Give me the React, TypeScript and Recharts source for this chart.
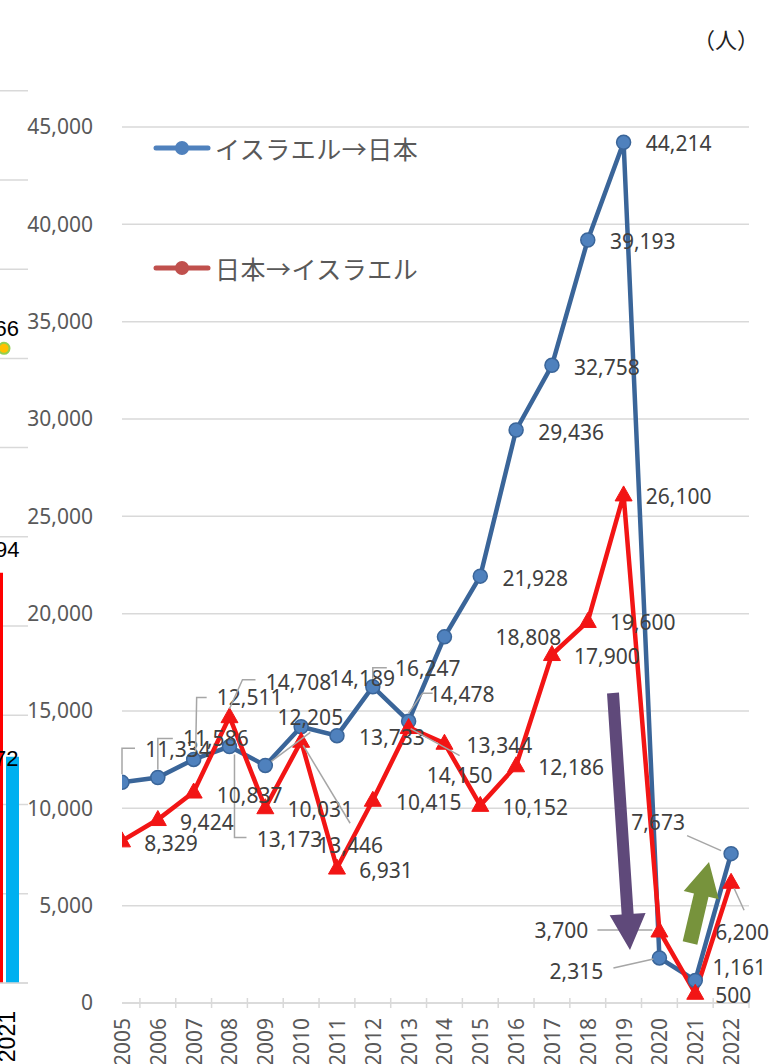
import React from 'react';
import {
  ComposedChart,
  Line,
  Bar,
  XAxis,
  YAxis,
  CartesianGrid,
  LabelList,
  Legend,
} from 'recharts';

// ---------- data ----------
const years = ['2005', '2006', '2007', '2008', '2009', '2010', '2011', '2012', '2013', '2014', '2015', '2016', '2017', '2018', '2019', '2020', '2021', '2022'];
const israelToJapan = [11334, 11586, 12511, 13173, 12205, 14189, 13733, 16247, 14478, 18808, 21928, 29436, 32758, 39193, 44214, 2315, 1161, 7673];
const japanToIsrael = [8329, 9424, 10837, 14708, 10031, 13446, 6931, 10415, 14150, 13344, 10152, 12186, 17900, 19600, 26100, 3700, 500, 6200];
const yTicks = [0, 5000, 10000, 15000, 20000, 25000, 30000, 35000, 40000, 45000];
const seriesNames = ['イスラエル→日本', '日本→イスラエル'];
const unitLabel = '（人）';

// neighbouring chart, cut off at the left edge of the picture
const sideYears = ['2021'];
const sideRed = [22994];
const sideBlue = [12672];
const sideYellow = [35566];
const sideTicks = [0, 5000, 10000, 15000, 20000, 25000, 30000, 35000, 40000, 45000, 50000];

const data = years.map((y, i) => ({ idx: i, year: y, ij: israelToJapan[i], ji: japanToIsrael[i] }));
const sideData = sideYears.map((y, i) => ({ year: y, red: sideRed[i], blue: sideBlue[i], yellow: sideYellow[i] }));
const xTicks: number[] = [];
years.forEach((_, i) => { xTicks.push(i); xTicks.push(i + 0.5); });

// ---------- layout config (label placement) ----------
const blueOffsets: [number, number][] = [
  [56, -33], [58, -39], [56, -62], [60, 92], [45, -48], [61, -49], [55, 1], [55, -19], [53, -27],
  [84, 0], [55, 2], [55, 2], [55, 2], [55, 1], [55, 1], [-83, 13], [44, -13], [-73, -32],
];
const redOffsets: [number, number][] = [
  [49, 2], [49, 2], [56, 3], [69, -35], [55, 1], [49, 104], [49, 2], [56, 2], [51, 47],
  [55, 2], [55, 2], [55, 1], [55, 1], [55, 1], [55, 1], [-98, -1], [38, 2], [11, 50],
];
const blueLeaders: Record<number, [number, number][]> = {
  0: [[0, -8], [0, -34], [13, -34]],
  1: [[0, -8], [0, -39], [15, -39]],
  2: [[2, -8], [3, -62], [13, -62]],
  3: [[5, 8], [5, 91], [17, 91]],
  4: [[6, -4], [45, -33]],
  7: [[0, -8], [0, -19], [14, -19]],
  8: [[0, -8], [14, -28], [24, -28]],
  15: [[-6, 1], [-46, 10]],
  17: [[-10, -3], [-44, -18]],
};
const redLeaders: Record<number, [number, number][]> = {
  3: [[0, -8], [13, -37], [26, -37]],
  5: [[2, 4], [49, 82]],
  8: [[2, 1], [51, 28]],
  15: [[-7, -1], [-62, -1]],
  17: [[3, 6], [13, 28]],
};

const fmt = (v: number) => Number(v).toLocaleString('en-US');
const NUM_FONT = "'Noto Sans', 'DejaVu Sans', sans-serif";
const CJK_FONT = "'Noto Sans CJK JP', 'Noto Sans', sans-serif";
const BLUE_LINE = '#3A6599';
const BLUE_DOT = '#4F81BD';
const RED_LINE = '#F21515';

const makeLabel = (offsets: [number, number][], leaders: Record<number, [number, number][]>) => (props: any) => {
  const { value, index } = props;
  const x = props.x ?? props.viewBox?.x;
  const y = props.y ?? props.viewBox?.y;
  if (x == null || y == null || index == null) return null;
  const [dx, dy] = offsets[index];
  const leader = leaders[index];
  return (
    <g>
      {leader && (
        <polyline
          points={leader.map(([a, b]) => `${x + a},${y + b}`).join(' ')}
          fill="none"
          stroke="#A6A6A6"
          strokeWidth={1.5}
        />
      )}
      <text
        x={x + dx}
        y={y + dy}
        textAnchor="middle"
        dominantBaseline="central"
        fontSize={21}
        fontFamily={NUM_FONT}
        fill="#404040"
      >
        {fmt(value)}
      </text>
    </g>
  );
};
const blueLabel = makeLabel(blueOffsets, blueLeaders);
const redLabel = makeLabel(redOffsets, redLeaders);

const TriDot = (props: any) => {
  const { cx, cy } = props;
  if (cx == null || cy == null) return <g />;
  return (
    <path
      d={`M${cx},${cy - 9} L${cx + 8.5},${cy + 6} L${cx - 8.5},${cy + 6} Z`}
      fill={RED_LINE}
      stroke={RED_LINE}
      strokeWidth={1}
    />
  );
};

const XTick = (props: any) => {
  const { x, y, payload } = props;
  const v = payload.value;
  if (Number.isInteger(v)) {
    const ty = y + 15;
    return (
      <text
        x={x}
        y={ty}
        transform={`rotate(-90, ${x}, ${ty})`}
        textAnchor="end"
        dominantBaseline="central"
        fontSize={21}
        fontFamily={NUM_FONT}
        fill="#595959"
      >
        {years[v]}
      </text>
    );
  }
  return <line x1={x} x2={x} y1={y - 5} y2={y + 5} stroke="#D9D9D9" strokeWidth={1.5} />;
};

const SideXTick = (props: any) => {
  const { x, y, payload } = props;
  const tx = x + 3;
  const ty = y + 20;
  return (
    <text
      x={tx}
      y={ty}
      transform={`rotate(-90, ${tx}, ${ty})`}
      textAnchor="end"
      dominantBaseline="central"
      fontSize={23}
      fontFamily="'Liberation Sans', Arial, sans-serif"
      fill="#000"
    >
      {payload.value}
    </text>
  );
};

const sideText = (x: number, y: number, v: number) => (
  <text x={x} y={y} textAnchor="end" dominantBaseline="central" fontSize={22} fontFamily="'Liberation Sans', Arial, sans-serif" fill="#000">
    {fmt(v)}
  </text>
);
const sideRedLabel = (p: any) => sideText(p.x + p.width + 16.5, p.y - 23, p.value);
const sideBlueLabel = (p: any) => sideText(p.x + p.width - 0.5, p.y + 2, p.value);
const sideYellowLabel = (p: any) => {
  const x = p.x ?? p.viewBox?.x;
  const y = p.y ?? p.viewBox?.y;
  return sideText(x + 15, y - 20, p.value);
};

const LegendBox = () => {
  const rows = [
    { name: seriesNames[0], color: BLUE_DOT, top: 148 },
    { name: seriesNames[1], color: '#C0504D', top: 268 },
  ];
  return (
    <div style={{ position: 'relative', width: 0, height: 0 }}>
      {rows.map((r) => (
        <div key={r.name} style={{ position: 'absolute', left: 152, top: r.top - 20, height: 40, display: 'flex', alignItems: 'center', whiteSpace: 'nowrap' }}>
          <svg width={60} height={20} style={{ display: 'block' }}>
            <line x1={4} x2={56} y1={10} y2={10} stroke={r.color} strokeWidth={5} strokeLinecap="round" />
            <circle cx={30} cy={10} r={7} fill={r.color} />
          </svg>
          <span style={{ marginLeft: 3, fontSize: 25, letterSpacing: 0.5, fontFamily: CJK_FONT, color: '#595959', lineHeight: '40px' }}>
            {r.name}
          </span>
        </div>
      ))}
    </div>
  );
};

const arrowPoints = (x1: number, y1: number, x2: number, y2: number, sw: number, hw: number, hl: number) => {
  const dx = x2 - x1;
  const dy = y2 - y1;
  const len = Math.sqrt(dx * dx + dy * dy);
  const ux = dx / len;
  const uy = dy / len;
  const px = -uy;
  const py = ux;
  const bx = x2 - ux * hl;
  const by = y2 - uy * hl;
  const pts = [
    [x1 + px * sw / 2, y1 + py * sw / 2],
    [bx + px * sw / 2, by + py * sw / 2],
    [bx + px * hw / 2, by + py * hw / 2],
    [x2, y2],
    [bx - px * hw / 2, by - py * hw / 2],
    [bx - px * sw / 2, by - py * sw / 2],
    [x1 - px * sw / 2, y1 - py * sw / 2],
  ];
  return pts.map((p) => p.join(',')).join(' ');
};

export default function App() {
  return (
    <div style={{ position: 'fixed', left: 0, top: 0, width: 774, height: 1064, overflow: 'hidden', background: '#fff' }}>
      {/* neighbouring chart, mostly off-picture */}
      <div style={{ position: 'absolute', left: -20, top: 0 }}>
        <ComposedChart width={48} height={1064} data={sideData} margin={{ top: 90.7, right: 0, bottom: 0, left: 0 }} barGap={3} barCategoryGap={10}>
          <CartesianGrid vertical={false} stroke="#D9D9D9" strokeWidth={1.5} />
          <XAxis dataKey="year" height={81} axisLine={{ stroke: '#D9D9D9', strokeWidth: 1.5 }} tickLine={false} tick={<SideXTick />} interval={0} />
          <YAxis hide domain={[0, 50000]} ticks={sideTicks} width={0} />
          <Bar dataKey="red" fill="#FF0000" barSize={13} isAnimationActive={false}>
            <LabelList dataKey="red" content={sideRedLabel} />
          </Bar>
          <Bar dataKey="blue" fill="#00B0F0" barSize={13} isAnimationActive={false}>
            <LabelList dataKey="blue" content={sideBlueLabel} />
          </Bar>
          <Line dataKey="yellow" stroke="none" isAnimationActive={false} dot={{ r: 5.5, fill: '#FFC000', stroke: '#92D050', strokeWidth: 2 }} activeDot={false}>
            <LabelList dataKey="yellow" content={sideYellowLabel} />
          </Line>
        </ComposedChart>
      </div>

      {/* main chart */}
      <div style={{ position: 'absolute', left: 0, top: 0 }}>
        <ComposedChart width={774} height={1064} data={data} margin={{ top: 127, right: 25, bottom: 0, left: 0 }}>
          <CartesianGrid vertical={false} stroke="#D9D9D9" strokeWidth={1.5} />
          <XAxis
            type="number"
            dataKey="idx"
            domain={[0, 17.5]}
            ticks={xTicks}
            interval={0}
            tick={<XTick />}
            tickLine={false}
            tickSize={0}
            tickMargin={0}
            height={61}
            axisLine={{ stroke: '#D9D9D9', strokeWidth: 1.5 }}
            allowDataOverflow
          />
          <YAxis
            width={122}
            domain={[0, 45000]}
            ticks={yTicks}
            interval={0}
            tickFormatter={fmt}
            axisLine={false}
            tickLine={false}
            tickSize={0}
            tickMargin={29}
            tick={{ fill: '#595959', fontSize: 21, fontFamily: NUM_FONT }}
          />
          <Legend content={() => <LegendBox />} wrapperStyle={{ position: 'absolute', left: 0, top: 0, width: 0, height: 0 }} />
          <Line
            name={seriesNames[0]}
            dataKey="ij"
            stroke={BLUE_LINE}
            strokeWidth={4.5}
            isAnimationActive={false}
            dot={{ r: 7, fill: BLUE_DOT, stroke: BLUE_LINE, strokeWidth: 1.5 }}
            activeDot={false}
          />
          <Line
            name={seriesNames[1]}
            dataKey="ji"
            stroke={RED_LINE}
            strokeWidth={4.5}
            strokeLinejoin="miter"
            isAnimationActive={false}
            dot={<TriDot />}
            activeDot={false}
          />
          <Line dataKey="ij" stroke="none" dot={false} activeDot={false} isAnimationActive={false} legendType="none">
            <LabelList dataKey="ij" content={blueLabel} />
          </Line>
          <Line dataKey="ji" stroke="none" dot={false} activeDot={false} isAnimationActive={false} legendType="none">
            <LabelList dataKey="ji" content={redLabel} />
          </Line>
        </ComposedChart>
      </div>

      {/* annotation arrows */}
      <svg width={774} height={1064} style={{ position: 'absolute', left: 0, top: 0, pointerEvents: 'none' }}>
        <polygon points={arrowPoints(613, 693, 630, 950, 12, 36, 36)} fill="#5F497A" />
        <polygon points={arrowPoints(690, 943, 709, 862, 15, 36, 34)} fill="#77933C" />
      </svg>

      <div style={{ position: 'absolute', left: 693, top: 22, fontSize: 22, fontFamily: CJK_FONT, color: '#222', lineHeight: '32px' }}>
        {unitLabel}
      </div>
    </div>
  );
}
